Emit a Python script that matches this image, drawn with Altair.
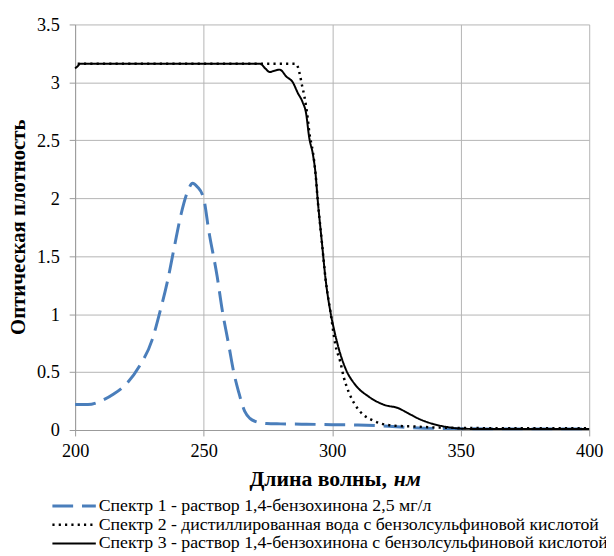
import altair as alt
import pandas as pd

# ---- data ----
s1_nm = [200, 205, 210, 215, 220, 225, 230, 233, 236, 238.6, 241.2, 243.8, 245.7, 247.5, 250,
         252, 255.3, 257.2, 259.8, 261.7, 263.6, 266, 268, 270, 274.5, 280, 290, 300, 310, 320,
         330, 340, 350, 360, 380, 400]
s1_val = [0.22, 0.22, 0.25, 0.31, 0.40, 0.55, 0.78, 1.02, 1.29, 1.58, 1.86, 2.06, 2.13, 2.10, 2.0,
          1.72, 1.32, 1.04, 0.73, 0.50, 0.33, 0.16, 0.10, 0.075, 0.056, 0.053, 0.05, 0.046, 0.043, 0.035,
          0.022, 0.014, 0.012, 0.01, 0.01, 0.01]

s2_nm = [201, 220, 240, 260, 280, 286, 287.3, 288.3, 289.2, 289.8, 290.5, 291.1, 292.5, 293.5,
         294.4, 296, 297.5, 299.4, 301.3, 303.2, 304.5, 306.4, 309, 312.2, 315.4, 319.3, 324.4,
         332, 340, 350, 375, 400]
s2_val = [3.16, 3.16, 3.16, 3.16, 3.16, 3.16, 3.08, 2.97, 2.88, 2.80, 2.69, 2.57, 2.40, 2.22,
          1.98, 1.62, 1.29, 1.01, 0.73, 0.585, 0.457, 0.33, 0.215, 0.13, 0.088, 0.054, 0.037,
          0.03, 0.022, 0.018, 0.015, 0.015]

s3_nm = [200, 201, 202, 220, 240, 260, 272, 274, 275.7, 277.5, 279.6, 282.2, 284.7, 286.6, 288.5,
         289.8, 291.1, 292.5, 293.5, 294.4, 296, 297.5, 299.4, 300.7, 302.6, 305.2, 309, 314.1,
         320.5, 325.6, 329.5, 334.6, 339, 345, 350, 360, 380, 400]
s3_val = [3.12, 3.14, 3.16, 3.16, 3.16, 3.16, 3.16, 3.12, 3.09, 3.10, 3.11, 3.05, 3.0, 2.91, 2.83,
          2.74, 2.52, 2.38, 2.22, 1.98, 1.62, 1.29, 1.01, 0.87, 0.70, 0.53, 0.39, 0.29,
          0.215, 0.19, 0.145, 0.088, 0.054, 0.025, 0.012, 0.008, 0.008, 0.008]

labels = [
    "Спектр 1 - раствор 1,4-бензохинона 2,5 мг/л",
    "Спектр 2 - дистиллированная вода с бензолсульфиновой кислотой",
    "Спектр 3 - раствор 1,4-бензохинона с бензолсульфиновой кислотой",
]
x_ticks = [200, 250, 300, 350, 400]
y_ticks = [0, 0.5, 1, 1.5, 2, 2.5, 3, 3.5]

# ---- styles ----
FONT = "Liberation Serif"
styles = [
    dict(color="#4a7ebb", strokeWidth=3, strokeDash=[21, 9]),
    dict(color="#000000", strokeWidth=2.5, strokeDash=[2.2, 4.2]),
    dict(color="#000000", strokeWidth=2, strokeDash=[1, 0]),
]

xscale = alt.Scale(domain=[200, 400], nice=False)
yscale = alt.Scale(domain=[0, 3.5], nice=False)

xaxis = alt.Axis(values=x_ticks, title=None, grid=True, gridColor="#b4b4b4", gridWidth=1,
                 domainColor="#9a9a9a", tickColor="#9a9a9a", tickSize=6, labelFont=FONT,
                 labelFontSize=18.5, labelColor="#000", labelPadding=6, labelFlush=False)
yaxis = alt.Axis(values=y_ticks, format="~g", title="Оптическая плотность", grid=True,
                 gridColor="#b4b4b4", gridWidth=1, domainColor="#9a9a9a", tickColor="#9a9a9a",
                 tickSize=6, labelFont=FONT, labelFontSize=18.5, labelColor="#000", labelPadding=10,
                 titleFont=FONT, titleFontSize=21, titleFontWeight="bold", titleColor="#000",
                 titleAngle=270, titleX=-57, titleY=205, titleAlign="center",
                 titleBaseline="middle")

series = [(s1_nm, s1_val), (s2_nm, s2_val), (s3_nm, s3_val)]
layers = []
for i, ((nm, val), st) in enumerate(zip(series, styles)):
    df = pd.DataFrame({"nm": nm, "val": val})
    enc = dict(x=alt.X("nm:Q", scale=xscale, axis=xaxis),
               y=alt.Y("val:Q", scale=yscale, axis=yaxis))
    layers.append(alt.Chart(df).mark_line(interpolate="monotone", **st).encode(**enc))

# ---- legend (drawn below the plot) ----
row_y = [488, 507, 526]
for lab, st, yy in zip(labels, styles, row_y):
    ldf = pd.DataFrame({"label": [lab]})
    layers.append(alt.Chart(ldf).mark_rule(**st).encode(
        x=alt.value(-23), x2=alt.value(21), y=alt.value(yy)))
    layers.append(alt.Chart(ldf).mark_text(align="left", baseline="middle", font=FONT,
                                           fontSize=18, color="#000").encode(
        x=alt.value(24), y=alt.value(yy), text="label:N"))

# ---- x axis title with italic unit ----
tdf = pd.DataFrame({"a": ["Длина волны,"], "b": ["нм"]})
layers.append(alt.Chart(tdf).mark_text(align="right", baseline="middle", font=FONT, fontSize=22,
                                       fontWeight="bold", color="#000").encode(
    x=alt.value(316), y=alt.value(461), text="a:N"))
layers.append(alt.Chart(tdf).mark_text(align="left", baseline="middle", font=FONT, fontSize=22,
                                       fontWeight="bold", fontStyle="italic", color="#000").encode(
    x=alt.value(323), y=alt.value(461), text="b:N"))

chart = alt.layer(*layers).properties(
    width=521, height=411,
    autosize=alt.AutoSizeParams(type="none"),
    padding={"left": 68, "top": 13, "right": 17, "bottom": 124},
    background="white",
).configure(font=FONT).configure_axis(labelFont=FONT, titleFont=FONT).configure_text(
    font=FONT).configure_view(stroke=None)

chart.save("out.html", embed_options={"renderer": "svg", "actions": False})
